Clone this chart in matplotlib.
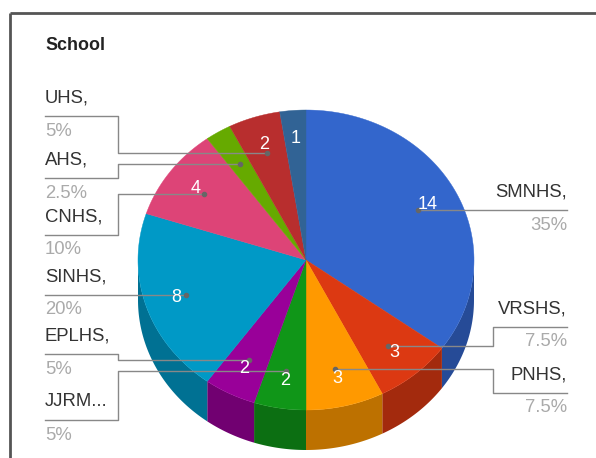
import numpy as np
import matplotlib.pyplot as plt
from matplotlib.patches import Polygon
from matplotlib.colors import to_rgb

plt.rcParams['font.family'] = ['Liberation Sans', 'DejaVu Sans']

# responses per school
schools = ["SMNHS", "VRSHS", "PNHS", "JJRM...", "EPLHS", "SINHS", "CNHS", "AHS", "UHS", ""]
counts = [14, 3, 3, 2, 2, 8, 4, 1, 2, 1]
colors = ["#3366cc", "#dc3912", "#ff9900", "#109618", "#990099",
          "#0099c6", "#dd4477", "#66aa00", "#b82e2e", "#316395"]
show_value = [True, True, True, True, True, True, True, False, True, True]

# where each outside label sits (side of the pie, y of its underline in px)
label_side = ["right", "right", "right", "left", "left", "left", "left", "left", "left", None]
label_lane = [210, 327, 393, 420, 354, 295, 235, 178, 116, None]

W, H = 596, 458
cx, cy = 306, 260          # pie centre (px)
rx, ry = 168, 150          # top ellipse radii
depth = 40                 # thickness of the 3d side
r_value, r_dot = 0.81, 0.75


def ell(theta, r=1.0):
    t = np.radians(theta)
    return cx + rx * r * np.sin(t), cy - ry * r * np.cos(t)


def darker(c, f=0.74):
    return tuple(v * f for v in to_rgb(c))


fig = plt.figure(figsize=(W / 100, H / 100), dpi=100)
ax = fig.add_axes([0, 0, 1, 1])
ax.set_xlim(0, W)
ax.set_ylim(H, 0)
ax.axis('off')

total = sum(counts)
fracs = np.array(counts) / total
edges = np.concatenate([[0], np.cumsum(fracs)]) * 360

# front side of the pie
for i, c in enumerate(colors):
    lo, hi = max(edges[i], 90), min(edges[i + 1], 270)
    if lo >= hi:
        continue
    th = np.linspace(lo, hi, 60)
    xs, ys = ell(th)
    pts = list(zip(xs, ys)) + list(zip(xs[::-1], ys[::-1] + depth))
    ax.add_patch(Polygon(pts, closed=True, fc=darker(c), ec='none', zorder=1))

# top face
for i, c in enumerate(colors):
    th = np.linspace(edges[i], edges[i + 1], 100)
    xs, ys = ell(th)
    pts = [(cx, cy)] + list(zip(xs, ys))
    ax.add_patch(Polygon(pts, closed=True, fc=c, ec=c, lw=0.3, zorder=2))

# values inside the slices
for i, n in enumerate(counts):
    if not show_value[i]:
        continue
    mid = (edges[i] + edges[i + 1]) / 2
    x, y = ell(mid, r_value)
    ax.text(x, y, str(n), color='white', fontsize=13, ha='center', va='center', zorder=4)

# outside labels with leader lines
line_c = '#888888'
for i, name in enumerate(schools):
    side = label_side[i]
    if side is None:
        continue
    lane = label_lane[i]
    mid = (edges[i] + edges[i + 1]) / 2
    dx, dy = ell(mid, r_dot)
    pct = f"{fracs[i] * 100:g}%"
    if side == "left":
        tx, bx, x_end, ha = 45, 118, 45, 'left'
    else:
        tx, bx, x_end, ha = 567, 493, 567, 'right'
    if abs(dy - lane) < 3:
        dy = lane
        ax.plot([dx, x_end], [lane, lane], color=line_c, lw=1, zorder=3)
    else:
        ax.plot([x_end, bx, bx, dx], [lane, lane, dy, dy], color=line_c, lw=1, zorder=3)
    ax.plot(dx, dy, 'o', ms=3, color='#666666', zorder=3)
    title = name if name.endswith("...") else name + ","
    ax.text(tx, lane - 18, title, fontsize=13.3, color='#333333', ha=ha, va='center')
    ax.text(tx, lane + 15, pct, fontsize=13.3, color='#aaaaaa', ha=ha, va='center')

ax.text(45, 45, "School", fontsize=12.9, fontweight='bold', color='#222222', ha='left', va='center')

# frame around the chart
ax.plot([10, W], [13, 13], color='#555555', lw=2, solid_capstyle='butt')
ax.plot([10, 10], [13, H], color='#555555', lw=2, solid_capstyle='butt')

fig.savefig("out.png", dpi=100)
